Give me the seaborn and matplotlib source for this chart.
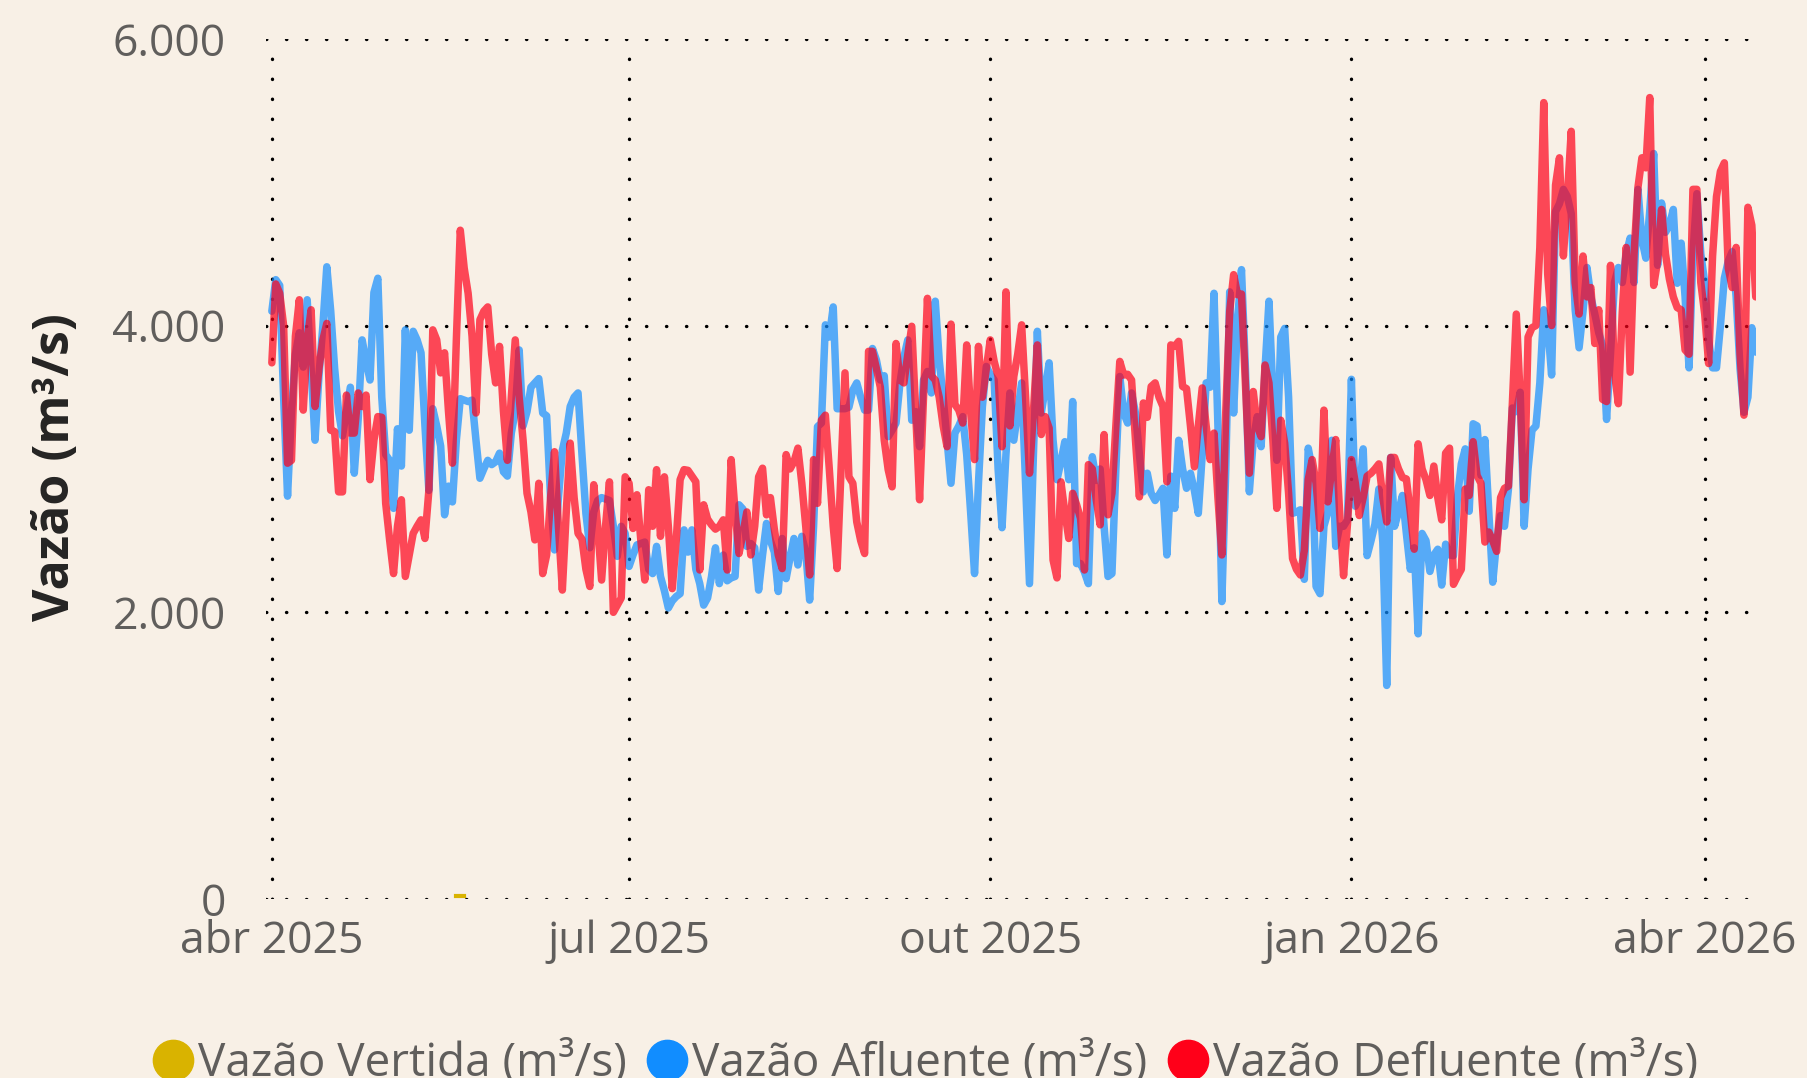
import pandas as pd
import matplotlib
matplotlib.use('Agg')
import matplotlib.pyplot as plt
from matplotlib.lines import Line2D
import seaborn as sns

# daily series starting 2025-04-01
start_date = '2025-04-01'

afluente = [
    4100, 4320, 4280, 3500, 2810, 3400, 3800, 3950, 3710, 4180,
    3700, 3200, 3650, 4000, 4410, 4100, 3700, 3400, 3230, 3400,
    3570, 2970, 3350, 3900, 3750, 3620, 4230, 4330, 3500, 3100,
    3060, 2725, 3280, 3020, 3970, 3270, 3960, 3900, 3810, 3300,
    2850, 3420, 3300, 3160, 2680, 2880, 2770, 3200, 3490, 3480,
    3470, 3480, 3200, 2935, 3000, 3060, 3030, 3050, 3110, 2980,
    2950, 3250, 3400, 3830, 3300, 3400, 3570, 3600, 3630, 3390,
    3370, 2800, 2435, 2800, 3130, 3250, 3435, 3500, 3530, 3100,
    2690, 2450, 2700, 2780, 2800, 2790, 2780, 2600, 2390, 2600,
    2550, 2320, 2400, 2470, 2480, 2490, 2300, 2270, 2460, 2250,
    2150, 2030, 2080, 2110, 2130, 2575, 2420, 2575, 2300, 2200,
    2050, 2100, 2250, 2450, 2200, 2400, 2220, 2240, 2250, 2750,
    2720, 2460, 2480, 2450, 2155, 2400, 2620, 2500, 2420, 2145,
    2515, 2235, 2380, 2515, 2330, 2530, 2420, 2085, 2600, 3295,
    3320, 4005, 3920, 4130, 3420, 3420, 3420, 3430, 3550, 3600,
    3500, 3410, 3410, 3840, 3760, 3620, 3650, 3225, 3270, 3320,
    3600, 3780, 3900, 3340, 3400, 3155, 3620, 3680, 3530, 4170,
    3760, 3500, 3200, 2900, 3250, 3300, 3365, 3100, 2700, 2270,
    2900, 3435, 3715, 3660, 3620, 3000, 2590, 3100, 3530, 3200,
    3400, 3600, 2900, 2200, 3100, 3960, 3390, 3560, 3740, 3200,
    2925, 3050, 3190, 2925, 3470, 2340, 2340, 2280, 2200, 3085,
    2920, 3000, 2600, 2250, 2270, 3000, 3645, 3390, 3320, 3530,
    3390, 3100, 2840, 2970, 2830, 2780, 2820, 2865, 2400, 2950,
    2725, 3200, 3000, 2865, 2970, 2850, 2690, 3100, 3600, 3570,
    4225, 3300, 2075, 3000, 4235, 3390, 4040, 4390, 3700, 2840,
    3200, 3365, 3155, 3700, 4170, 3530, 3060, 3920, 3980, 3500,
    2690, 2700, 2715, 2230, 3145, 3000, 2180, 2130, 2600, 2700,
    3200, 2460, 2600, 2600, 2645, 3625, 2740, 2800, 3140, 2395,
    2500, 2615, 2860, 2490, 1490, 3080, 2600, 2700, 2815, 2550,
    2300, 2450, 1850, 2550, 2500, 2285, 2400, 2440, 2190, 2475,
    2400, 2395, 2800, 3035, 3140, 2705, 3315, 3300, 2955, 3205,
    2700, 2210, 2500, 2675, 2600, 2860, 3425, 3400, 3535, 2600,
    3000, 3270, 3300, 3600, 4110, 4000, 3655, 4795, 4850, 4950,
    4900, 4780, 4110, 3845, 4100, 4405, 4200, 4080, 3950, 3860,
    3345, 3800, 4300, 4405, 4300, 4500, 4610, 4300, 4950, 4600,
    4470, 4800, 5200, 4420, 4855, 4650, 4700, 4810, 4295, 4575,
    4200, 3705, 4500, 4920, 4500, 4300, 3900, 3705, 3705, 4000,
    4330, 4450, 4515, 4200, 3700, 3395, 3500, 3985, 3815,
]

defluente = [
    3740, 4290, 4225, 4000, 3040, 3060, 3925, 4180, 3410, 3900,
    4110, 3435, 3700, 3900, 4015, 3270, 3260, 2840, 2840, 3515,
    3250, 3250, 3530, 3435, 3515, 2925, 3200, 3365, 3360, 2760,
    2505, 2270, 2600, 2785, 2250, 2400, 2550, 2600, 2645, 2515,
    2850, 3970, 3900, 3670, 3810, 3400, 3040, 3900, 4665, 4400,
    4225, 3925, 3390, 4040, 4100, 4130, 3800, 3600, 3855, 3400,
    3060, 3500, 3900, 3500, 3200, 2830, 2700, 2505, 2900, 2270,
    2400, 2800, 3120, 2600, 2155, 2700, 3180, 2800, 2550, 2510,
    2300, 2180, 2890, 2600, 2225, 2600, 2910, 2000, 2050, 2100,
    2945, 2900, 2585, 2820, 2500, 2225, 2855, 2600, 2995, 2530,
    2945, 2600, 2165, 2500, 2925, 2995, 2990, 2950, 2910, 2295,
    2750, 2650, 2610, 2580, 2600, 2645, 2295, 3065, 2700, 2410,
    2550, 2700, 2400, 2600, 2945, 3005, 2680, 2800, 2580, 2400,
    2305, 3100, 3000, 3050, 3145, 2900, 2600, 2260, 3065, 2760,
    3340, 3375, 3000, 2600, 2305, 3000, 3670, 2945, 2900, 2630,
    2500, 2410, 3820, 3820, 3700, 3570, 3200, 2995, 2875, 3875,
    3620, 3600, 3800, 3995, 3400, 2785, 3500, 4190, 3650, 3620,
    3500, 3300, 3155, 4010, 3450, 3410, 3320, 3865, 3400, 3065,
    3855, 3500, 3700, 3900, 3750, 3645, 3155, 4235, 3300, 3645,
    3800, 4005, 3500, 2970, 3400, 3865, 3240, 3365, 3285, 2365,
    2240, 2910, 2700, 2515, 2830, 2750, 2655, 2295, 3030, 3000,
    2785, 2610, 3240, 2680, 2830, 3300, 3750, 3655, 3660, 3620,
    3200, 2805, 3460, 3360, 3575, 3600, 3500, 3435, 2910, 3865,
    3855, 3890, 3575, 3560, 3300, 3015, 3300, 3565, 3300, 3065,
    3250, 2800, 2400, 3400, 4100, 4355, 4215, 4220, 3600, 2970,
    3540, 3300, 3225, 3725, 3600, 3200, 2725, 3340, 3180, 2830,
    2375, 2300, 2260, 2430, 2925, 3065, 2900, 2585, 3410, 2770,
    3000, 3205, 2700, 2255, 2615, 3065, 2900, 2675, 2800, 2950,
    2970, 3000, 3035, 2800, 2630, 3080, 3080, 3000, 2940, 2930,
    2700, 2440, 3175, 3000, 2925, 2815, 3020, 2800, 2645, 3110,
    3145, 2195, 2250, 2300, 2860, 2815, 3190, 2955, 2900, 2490,
    2560, 2500, 2425, 2800, 2865, 2880, 3455, 4080, 3500, 2785,
    3920, 3985, 4000, 4545, 5555, 4360, 4000, 4980, 5170, 4485,
    4900, 5355, 4300, 4080, 4485, 4200, 4265, 3875, 4110, 3485,
    3470, 4420, 3675, 3455, 4095, 4545, 3675, 4500, 4965, 5170,
    5100, 5590, 4280, 4450, 4810, 4500, 4325, 4200, 4125, 4110,
    3830, 3800, 4950, 4950, 4300, 4080, 3735, 4485, 4900, 5075,
    5135, 4400, 4265, 4545, 3800, 3375, 4825, 4700, 4200,
]

vertida_dates = ['2025-05-18', '2025-05-19', '2025-05-20']
vertida = [20, 20, 20]

x_ticks = ['2025-04-01', '2025-07-01', '2025-10-01', '2026-01-01', '2026-04-01']
x_tick_labels = ['abr 2025', 'jul 2025', 'out 2025', 'jan 2026', 'abr 2026']
y_ticks = [0, 2000, 4000, 6000]
y_tick_labels = ['0', '2.000', '4.000', '6.000']

series_names = ['Vazão Vertida (m³/s)', 'Vazão Afluente (m³/s)', 'Vazão Defluente (m³/s)']
series_colors = ['#D9B300', '#118DFF', '#FF0019']

bg = '#F8F0E6'
text_gray = '#605E5C'

sns.set_theme(style='white')
plt.rcParams['font.family'] = ['Open Sans', 'DejaVu Sans']

df_af = pd.DataFrame({'data': pd.date_range(start_date, periods=len(afluente), freq='D'),
                      'vazao': afluente})
df_df = pd.DataFrame({'data': pd.date_range(start_date, periods=len(defluente), freq='D'),
                      'vazao': defluente})
df_vt = pd.DataFrame({'data': pd.to_datetime(vertida_dates), 'vazao': vertida})

fig = plt.figure(figsize=(18.08, 10.78), dpi=100, facecolor=bg)
ax = fig.add_axes([0.1471, 0.166, 0.824, 0.798])
ax.set_facecolor(bg)

sns.lineplot(data=df_vt, x='data', y='vazao', color=series_colors[0], linewidth=3,
             solid_capstyle='projecting', ax=ax, legend=False)
sns.lineplot(data=df_af, x='data', y='vazao', color=series_colors[1], alpha=0.7,
             linewidth=5.4, solid_joinstyle='round', solid_capstyle='round', ax=ax, legend=False)
sns.lineplot(data=df_df, x='data', y='vazao', color=series_colors[2], alpha=0.7,
             linewidth=5.4, solid_joinstyle='round', solid_capstyle='round', ax=ax, legend=False)

ax.set_ylim(0, 6000)
ax.set_xlim(pd.Timestamp(start_date) - pd.Timedelta(hours=36), df_af['data'].iloc[-1])

ax.set_yticks(y_ticks)
ax.set_yticklabels(y_tick_labels)
ax.set_xticks(pd.to_datetime(x_ticks))
ax.set_xticklabels(x_tick_labels)
ax.tick_params(axis='both', length=0, labelsize=32, labelcolor=text_gray)
ax.tick_params(axis='y', pad=29)
ax.tick_params(axis='x', pad=15)

ax.grid(True, color='black', linestyle=(0, (0.1, 5.9)), linewidth=2.4, dash_capstyle='round')
ax.set_axisbelow(True)
for s in ax.spines.values():
    s.set_visible(False)

ax.set_xlabel('')
ax.set_ylabel('')
fig.text(56 / 1808, 1 - 467 / 1078, 'Vazão (m³/s)', rotation=90, ha='center', va='center',
         fontsize=36, fontweight='bold', color='#252423')

handles = [Line2D([], [], linestyle='none', marker='o', markersize=29,
                  markerfacecolor=c, markeredgecolor=c) for c in series_colors]
fig.legend(handles, series_names, loc='center', bbox_to_anchor=(0.512, 0.013), ncol=3,
           frameon=False, fontsize=33, labelcolor=text_gray, handlelength=0.85,
           handletextpad=0.12, columnspacing=0.45, borderaxespad=0)

fig.savefig('out.png', dpi=100, facecolor=bg)
